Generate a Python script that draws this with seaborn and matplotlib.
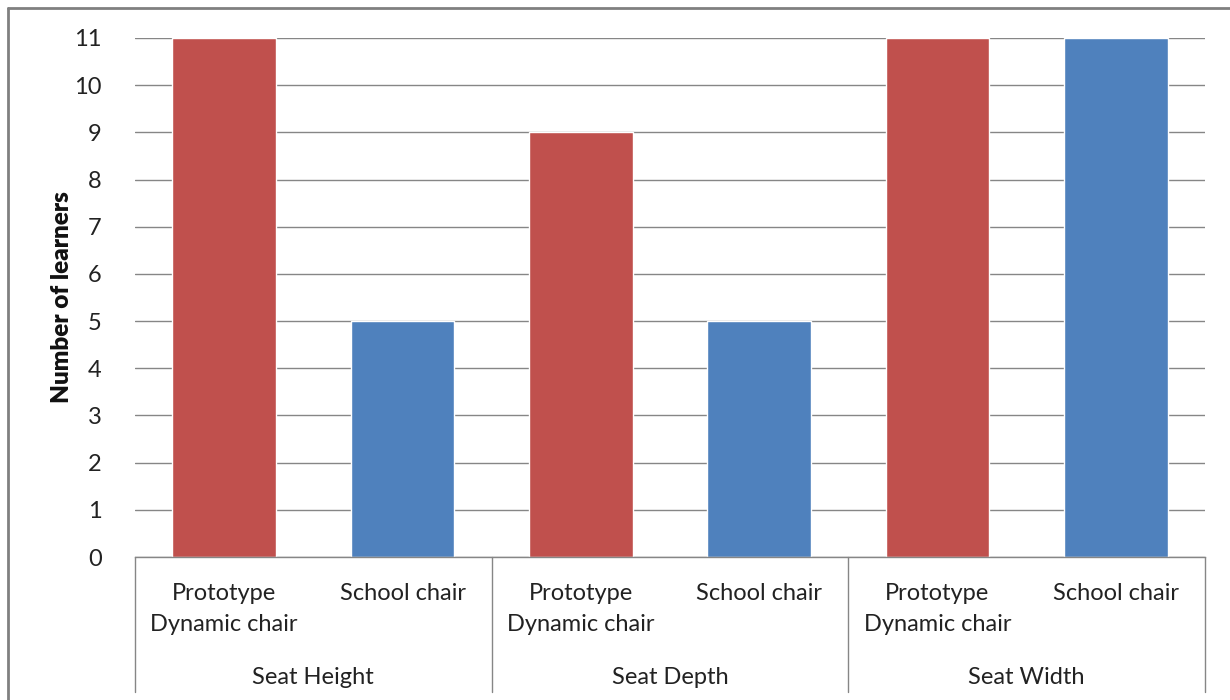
import pandas as pd
import matplotlib.pyplot as plt
import matplotlib.lines as mlines
import seaborn as sns

# --- datos ---
groups = ['Seat Height', 'Seat Depth', 'Seat Width']
chairs = ['Prototype\nDynamic chair', 'School chair']
prototype_vals = [11, 9, 11]
school_vals = [5, 5, 11]
y_ticks = list(range(0, 12))

RED = '#C0504D'
BLUE = '#4F81BD'
GRID = '#868686'

rows = []
for g, p, s in zip(groups, prototype_vals, school_vals):
    rows.append({'slot': g + ' | P', 'chair': chairs[0], 'value': p})
    rows.append({'slot': g + ' | S', 'chair': chairs[1], 'value': s})
df = pd.DataFrame(rows)

sns.set_theme(style='white')
plt.rcParams['font.family'] = ['Lato', 'DejaVu Sans']

fig = plt.figure(figsize=(12.3, 7), dpi=100)
ax = fig.add_axes([135 / 1230, 1 - 557 / 700, (1205 - 135) / 1230, (557 - 38) / 700])

sns.barplot(data=df, x='slot', y='value', hue='chair', palette=[RED, BLUE],
            dodge=False, width=0.58, saturation=1, legend=False, ax=ax)

ax.set_ylim(0, 11)
ax.set_xlim(-0.5, len(df) - 0.5)
ax.set_yticks(y_ticks)
ax.set_yticklabels([str(t) for t in y_ticks], fontsize=17, color='#222222')
ax.tick_params(axis='y', length=0, pad=24)
ax.yaxis.grid(True, color=GRID, linewidth=1.0)
ax.set_axisbelow(True)
for side in ['top', 'right', 'left']:
    ax.spines[side].set_visible(False)
ax.spines['bottom'].set_color(GRID)
ax.spines['bottom'].set_linewidth(1.0)

ax.set_xticks([])
ax.set_xlabel('')
ax.set_ylabel('Number of learners', fontsize=17.5, fontweight='heavy', labelpad=1, color='#111111')

# etiquetas de categoría y de grupo (eje multinivel estilo Excel)
trans = ax.get_xaxis_transform()
for i, row in df.iterrows():
    ax.text(i, -0.05, row['chair'], transform=trans, ha='center', va='top',
            fontsize=17, linespacing=1.6, color='#222222', clip_on=False)
for k, g in enumerate(groups):
    ax.text(2 * k + 0.5, -0.233, g, transform=trans, ha='center', va='center',
            fontsize=17, color='#222222', clip_on=False)
for k in range(len(groups) + 1):
    ax.add_line(mlines.Line2D([2 * k - 0.5, 2 * k - 0.5], [0, -0.26], transform=trans,
                              color=GRID, linewidth=1.0, clip_on=False))

# borde del área del gráfico
fig.add_artist(mlines.Line2D([8 / 1230, 8 / 1230], [0, 1 - 8 / 700], color='#808080', linewidth=2))
fig.add_artist(mlines.Line2D([8 / 1230, 1], [1 - 8 / 700, 1 - 8 / 700], color='#808080', linewidth=2))

plt.savefig('out.png', dpi=100)
plt.close()
